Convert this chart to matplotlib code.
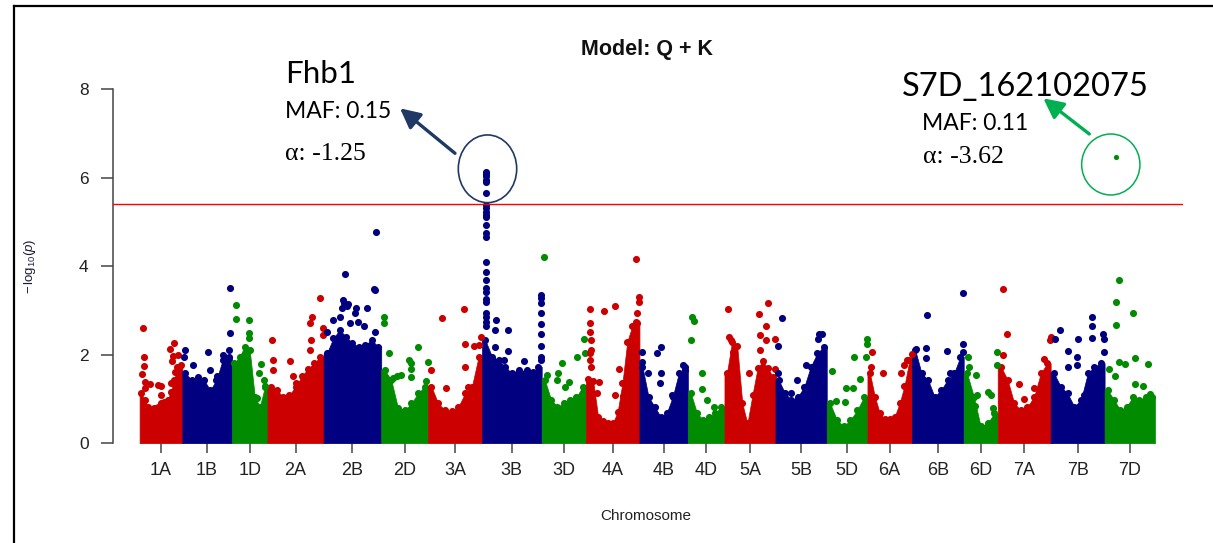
import numpy as np
import matplotlib
matplotlib.use('Agg')
import matplotlib.pyplot as plt
from matplotlib.patches import Ellipse, FancyArrowPatch
from matplotlib.lines import Line2D

# ---------------- data ----------------
chroms = ['1A', '1B', '1D', '2A', '2B', '2D', '3A', '3B', '3D', '4A', '4B',
          '4D', '5A', '5B', '5D', '6A', '6B', '6D', '7A', '7B', '7D']
chrom_len_mb = [594, 689, 495, 780, 801, 651, 750, 830, 615, 744, 673,
                509, 709, 713, 566, 618, 720, 473, 736, 750, 700]

# upper envelope of the dense SNP cloud, left -> right along each chromosome
body_1A = [1.13, 0.98, 0.83, 0.72, 0.79, 0.83, 0.90, 0.94, 0.98, 1.17, 1.43, 1.73, 1.77]
body_1B = [1.58, 1.43, 1.50, 1.43, 1.20, 1.43, 1.88, 1.96]
body_1D = [1.81, 1.96, 2.18, 2.11, 1.05, 0.83, 1.28]
body_2A = [1.28, 1.20, 1.05, 1.09, 1.28, 1.51, 1.69, 1.81, 1.96]
body_2B = [2.03, 2.37, 2.56, 2.41, 2.26, 2.18, 2.22, 2.34, 2.18]
body_2D = [1.66, 1.43, 0.80, 0.75, 0.90, 1.13, 1.28]
body_3A = [1.28, 0.90, 0.75, 0.72, 0.83, 1.13, 1.28, 1.96]
body_3B = [2.33, 1.96, 1.88, 1.73, 1.58, 1.58, 1.58, 1.58, 1.73]
body_3D = [1.43, 0.98, 0.83, 0.90, 0.98, 1.05, 1.28]
body_4A = [1.45, 1.40, 0.60, 0.50, 0.45, 0.45, 0.70, 1.36, 2.30, 2.64, 2.71]
body_4B = [1.73, 1.05, 0.83, 0.60, 0.68, 1.05, 1.58, 1.66]
body_4D = [1.13, 0.68, 0.53, 0.60, 0.68, 0.83]
body_5A = [1.60, 2.30, 2.20, 0.90, 0.45, 1.10, 1.70, 1.85, 1.70, 1.50]
body_5B = [1.43, 1.13, 0.98, 1.05, 1.28, 1.73, 2.03, 2.18]
body_5D = [0.90, 0.53, 0.38, 0.53, 0.75, 1.05]
body_6A = [1.58, 1.05, 0.68, 0.55, 0.55, 0.60, 0.90, 1.30, 1.88]
body_6B = [2.11, 1.58, 1.43, 1.05, 1.20, 1.43, 1.58, 1.96]
body_6D = [1.58, 1.05, 0.38, 0.45, 0.68]
body_7A = [1.73, 1.43, 0.90, 0.75, 0.83, 1.05, 1.58, 1.81]
body_7B = [1.58, 1.28, 1.13, 0.83, 0.98, 1.58, 1.73, 1.81]
body_7D = [1.20, 0.98, 0.75, 0.83, 1.05, 0.98, 1.05, 1.05]

# individual SNPs above the cloud: (position Mb, -log10 p)
peaks_1A = [(46, 2.60), (60, 1.94), (55, 1.75), (37, 1.56), (69, 1.39), (78, 1.24), (148, 1.33),
            (254, 1.32), (300, 1.30), (300, 1.09), (424, 2.12), (484, 2.27), (452, 1.85),
            (470, 1.97), (530, 2.00), (498, 1.62), (438, 1.36)]
peaks_1B = [(37, 2.11), (23, 1.96), (152, 1.77), (350, 2.07), (382, 1.66), (484, 1.51),
            (660, 2.50), (668, 3.50), (650, 2.11), (567, 2.00)]
peaks_1D = [(52, 3.13), (52, 2.80), (240, 2.79), (240, 2.50), (240, 2.37), (400, 1.79),
            (381, 1.58), (447, 1.43), (462, 1.30), (344, 1.02)]
peaks_2A = [(60, 2.34), (74, 1.88), (83, 1.66), (306, 1.86), (353, 1.51), (399, 1.36),
            (594, 2.71), (617, 2.86), (603, 2.34), (594, 2.11), (733, 3.29), (775, 2.60), (775, 2.45)]
peaks_2B = [(45, 2.52), (137, 2.79), (264, 3.24), (282, 3.16), (341, 3.15), (446, 3.05),
            (601, 3.05), (432, 2.94), (478, 2.75), (555, 2.64), (705, 3.48), (719, 3.47),
            (719, 2.52), (228, 2.86), (373, 2.71), (300, 3.83), (723, 4.77), (250, 3.05), (330, 3.10)]
peaks_2D = [(41, 2.86), (41, 2.71), (111, 2.03), (157, 1.47), (225, 1.51), (387, 1.88),
            (507, 2.17), (415, 1.82), (415, 1.67), (415, 1.49), (645, 1.84), (623, 1.41), (277, 1.54)]
peaks_3A = [(194, 2.84), (498, 3.03), (516, 2.24), (507, 1.73), (244, 1.24), (46, 1.66),
            (737, 2.41), (714, 2.22), (645, 2.19), (553, 1.28)]
peaks_3B = [(51, 6.14), (51, 6.09), (51, 6.03), (51, 5.96), (51, 5.91), (51, 5.66), (51, 5.38),
            (51, 5.31), (51, 5.23), (51, 5.16), (51, 5.11), (51, 4.93), (51, 4.75), (51, 4.67),
            (51, 4.10), (51, 3.88), (51, 3.69), (51, 3.50), (51, 3.43), (51, 3.25), (51, 3.20),
            (51, 2.95), (51, 2.86), (51, 2.75), (51, 2.64),
            (189, 2.79), (180, 2.55), (360, 2.55), (180, 2.17), (360, 2.09), (304, 1.88),
            (581, 1.85), (512, 1.66), (627, 1.66), (710, 1.62),
            (825, 3.35), (825, 3.28), (825, 3.16), (825, 2.94), (825, 2.70), (825, 2.46),
            (825, 2.21), (825, 1.96), (825, 1.88)]
peaks_3D = [(37, 4.20), (233, 1.59), (289, 1.81), (373, 1.39), (489, 1.96), (583, 2.35),
            (606, 2.03), (210, 1.43), (326, 1.28), (70, 1.54)]
peaks_4A = [(60, 3.03), (60, 2.71), (60, 2.52), (60, 2.03), (55, 1.88), (70, 1.73), (73, 2.33),
            (73, 2.11), (253, 3.00), (406, 3.10), (175, 1.39), (150, 1.13), (406, 1.09),
            (520, 1.07), (465, 1.69), (696, 4.17), (740, 3.31), (740, 3.20), (705, 2.95), (690, 2.75)]
peaks_4B = [(41, 2.07), (41, 1.83), (124, 1.58), (240, 2.03), (295, 2.17), (295, 1.60),
            (286, 1.36), (447, 1.09), (599, 1.77), (632, 1.73)]
peaks_4D = [(57, 2.86), (81, 2.76), (43, 2.33), (200, 1.58), (200, 1.22), (262, 0.98), (367, 0.83)]
peaks_5A = [(55, 3.03), (68, 2.41), (91, 2.33), (114, 2.07), (478, 2.92), (601, 3.18),
            (578, 2.65), (491, 2.45), (583, 2.33), (705, 2.36), (705, 1.69), (341, 1.58), (500, 2.11)]
peaks_5B = [(91, 2.84), (41, 2.21), (41, 1.58), (210, 1.13), (302, 1.43), (430, 1.76),
            (612, 2.46), (649, 2.46), (590, 2.35)]
peaks_5D = [(76, 1.64), (132, 0.96), (250, 0.93), (274, 1.26), (368, 1.26), (378, 1.96),
            (462, 1.45), (560, 2.35), (560, 2.25), (547, 1.96)]
peaks_6A = [(61, 2.07), (50, 1.73), (221, 1.60), (466, 1.58), (508, 1.76), (554, 1.88), (615, 2.02)]
peaks_6B = [(207, 2.91), (194, 2.15), (194, 1.92), (60, 2.12), (484, 2.09), (530, 1.58),
            (715, 3.40), (715, 2.24), (714, 2.07)]
peaks_6D = [(57, 1.94), (71, 1.72), (166, 1.54), (189, 1.09), (151, 0.85), (340, 1.17),
            (378, 1.09), (402, 0.79), (470, 2.07), (470, 1.77)]
peaks_7A = [(78, 3.48), (129, 2.48), (69, 2.00), (299, 1.34), (368, 0.99), (506, 1.24),
            (644, 1.90), (735, 2.41), (730, 2.33)]
peaks_7B = [(55, 2.36), (124, 2.55), (244, 2.09), (368, 1.96), (368, 1.77), (382, 2.36),
            (580, 2.86), (580, 2.66), (580, 2.39), (727, 2.48), (736, 2.36), (745, 2.06),
            (244, 1.73), (460, 1.09)]
peaks_7D = [(207, 3.69), (161, 3.19), (161, 2.67), (400, 2.95), (207, 1.84), (285, 1.80),
            (55, 1.68), (419, 1.93), (607, 1.80), (147, 1.51), (423, 1.35), (538, 1.30), (630, 1.11)]

# highlighted SNP S7D_162102075
snp_7d_pos = 162
snp_7d_val = 6.46

threshold = 5.41

bodies = [body_1A, body_1B, body_1D, body_2A, body_2B, body_2D, body_3A, body_3B, body_3D,
          body_4A, body_4B, body_4D, body_5A, body_5B, body_5D, body_6A, body_6B, body_6D,
          body_7A, body_7B, body_7D]
peaks = [peaks_1A, peaks_1B, peaks_1D, peaks_2A, peaks_2B, peaks_2D, peaks_3A, peaks_3B, peaks_3D,
         peaks_4A, peaks_4B, peaks_4D, peaks_5A, peaks_5B, peaks_5D, peaks_6A, peaks_6B, peaks_6D,
         peaks_7A, peaks_7B, peaks_7D]

# ---------------- style ----------------
colors = ['#cd0000', '#000080', '#008b00']
plt.rcParams['font.family'] = ['Liberation Sans', 'DejaVu Sans']
plt.rcParams['mathtext.fontset'] = 'custom'
plt.rcParams['mathtext.rm'] = 'Liberation Sans'
plt.rcParams['mathtext.it'] = 'Liberation Sans:italic'

W, H = 1213, 543
fig = plt.figure(figsize=(W / 100, H / 100), dpi=100)
ax = fig.add_axes([113 / W, 1 - 443.3 / H, (1183 - 113) / W, (443.3 - 89.3) / H])

offsets = np.concatenate([[0], np.cumsum(chrom_len_mb)[:-1]])
total = float(np.sum(chrom_len_mb))
msize = 26

for i, c in enumerate(chroms):
    col = colors[i % 3]
    body = np.array(bodies[i])
    n = len(body)
    L = chrom_len_mb[i]
    w = L / n
    centers = offsets[i] + (np.arange(n) + 0.5) * w
    xs = np.concatenate([[offsets[i]], centers, [offsets[i] + L]])
    ys = np.concatenate([[body[0]], body, [body[-1]]])
    ax.fill_between(xs, 0, ys, color=col, linewidth=0.5, edgecolor=col, zorder=2)
    ax.scatter(centers, body, s=msize, color=col, linewidths=0, zorder=2)
    pk = np.array(peaks[i])
    ax.scatter(offsets[i] + pk[:, 0], pk[:, 1], s=msize, color=col, linewidths=0, zorder=3)

ax.scatter([offsets[20] + snp_7d_pos], [snp_7d_val], s=14, color=colors[2], linewidths=0, zorder=3)

ax.axhline(threshold, color='#ff0000', lw=1.0, zorder=4)

ax.set_xlim(-370, total + 390)
ax.set_ylim(0, 8)
for s in ['top', 'right', 'bottom']:
    ax.spines[s].set_visible(False)
ax.spines['left'].set_bounds(0, 8)
ax.spines['left'].set_color('#444444')
ax.spines['left'].set_linewidth(1.1)

ax.set_yticks([0, 2, 4, 6, 8])
ax.tick_params(axis='y', length=8.5, width=1.1, color='#444444', labelsize=12.5,
               labelcolor='#222222', pad=9)
ax.set_xticks(offsets + np.array(chrom_len_mb) / 2)
ax.set_xticklabels(chroms)
ax.tick_params(axis='x', length=7.2, width=1.1, color='#444444', labelsize=13,
               labelcolor='#222222', pad=6.5)

fig.text(30 / W, 1 - 266 / H, r'$-\,\mathrm{log}_{10}(\mathit{p})$', rotation=90,
         ha='center', va='center', fontsize=9.5, color='#1a1a3a')
fig.text(646 / W, 1 - 516 / H, 'Chromosome', ha='center', va='center', fontsize=11, color='#222222')
fig.text(647 / W, 1 - 49.7 / H, 'Model: Q + K', ha='center', va='center', fontsize=15.5,
         fontweight='bold', color='#111111')

# annotations
def fx(x):
    return x / W

def fy(y):
    return 1 - y / H

fig.text(fx(285), fy(83.3), 'Fhb1', fontsize=22.5, family=['Lato', 'DejaVu Sans'], va='baseline', ha='left')
fig.text(fx(285), fy(118.3), 'MAF: 0.15', fontsize=16.5, family=['Lato', 'DejaVu Sans'], va='baseline', ha='left')
fig.text(fx(285), fy(160), 'α: -1.25', fontsize=18.5, family=['Liberation Serif', 'DejaVu Serif'], va='baseline', ha='left')

fig.text(fx(901.7), fy(96), 'S7D_162102075', fontsize=23.5, family=['Lato', 'DejaVu Sans'], va='baseline', ha='left')
fig.text(fx(921.7), fy(130), 'MAF: 0.11', fontsize=16.5, family=['Lato', 'DejaVu Sans'], va='baseline', ha='left')
fig.text(fx(923), fy(163), 'α: -3.62', fontsize=18.5, family=['Liberation Serif', 'DejaVu Serif'], va='baseline', ha='left')

navy2 = '#1f3864'
green2 = '#00b050'
fig.patches.append(Ellipse((fx(487.5), fy(168.8)), 58.4 / W, 67.7 / H, fill=False,
                           edgecolor=navy2, lw=1.2, transform=fig.transFigure))
fig.patches.append(Ellipse((fx(1110.8), fy(164.5)), 58.3 / W, 61 / H, fill=False,
                           edgecolor=green2, lw=1.1, transform=fig.transFigure))
fig.patches.append(FancyArrowPatch((fx(455), fy(153.3)), (fx(400), fy(108.3)),
                                   arrowstyle='-|>,head_length=12,head_width=6', color=navy2,
                                   lw=2.4, transform=fig.transFigure, shrinkA=0, shrinkB=0))
fig.patches.append(FancyArrowPatch((fx(1089.3), fy(134)), (fx(1043.3), fy(98.3)),
                                   arrowstyle='-|>,head_length=12,head_width=6', color=green2,
                                   lw=2.4, transform=fig.transFigure, shrinkA=0, shrinkB=0))

# frame of the screenshot
fig.add_artist(Line2D([fx(14), fx(14)], [fy(6), 0], color='black', lw=1.6, transform=fig.transFigure))
fig.add_artist(Line2D([fx(14), 1], [fy(6), fy(6)], color='black', lw=1.6, transform=fig.transFigure))

fig.savefig('out.png', dpi=100)
